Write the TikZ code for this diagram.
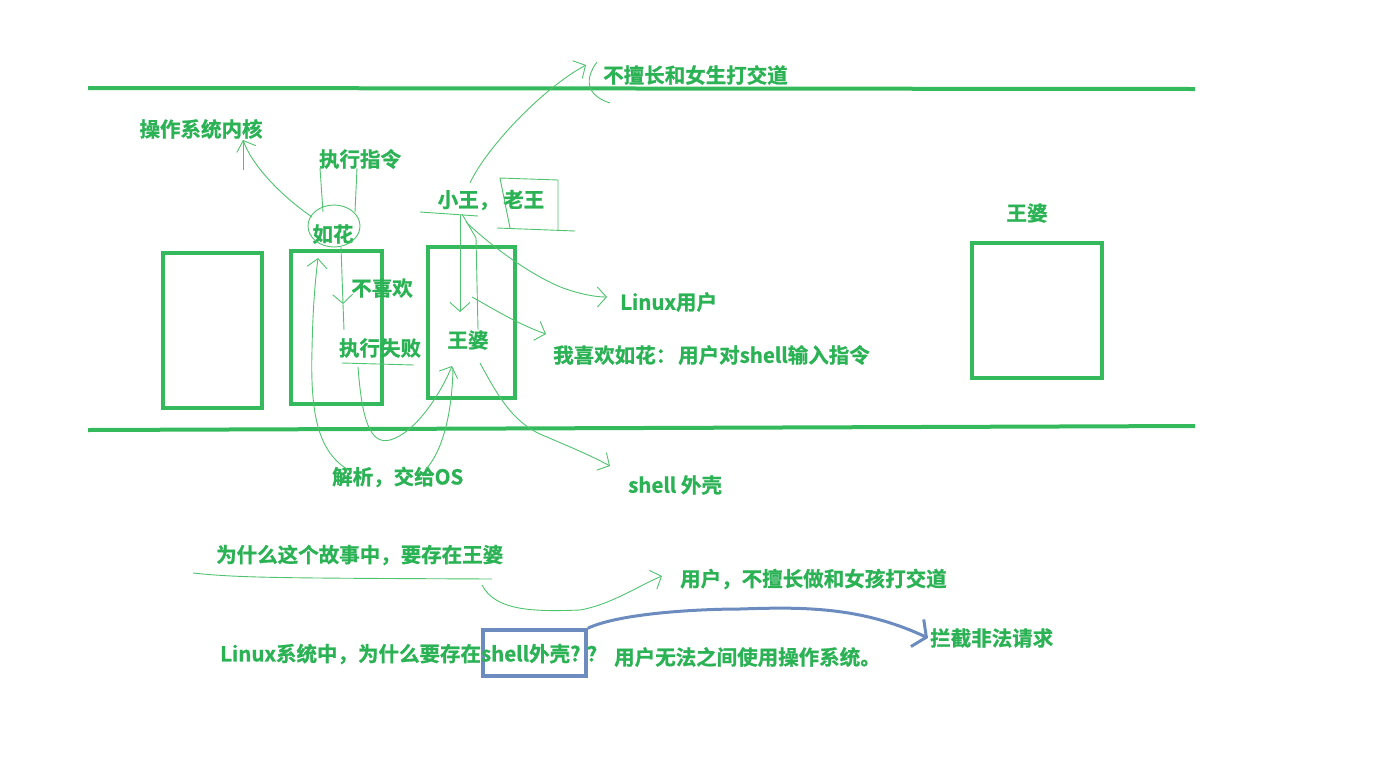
\documentclass[tikz,border=0pt]{standalone}
\usepackage{fontspec}
\setmainfont{Noto Sans CJK SC}[BoldFont=* Bold, BoldFeatures={FakeBold=1}]
\usetikzlibrary{arrows.meta}
\definecolor{tg}{RGB}{42,178,84}
\definecolor{lg}{RGB}{52,186,92}
\definecolor{sg}{RGB}{80,195,112}
\definecolor{bl}{RGB}{108,140,192}
\tikzset{
  lbl/.style={inner sep=0pt, text=tg, font=\bfseries\fontsize{20.5}{24}\selectfont},
  frame/.style={draw=lg, line width=4pt, inner sep=0pt},
  bframe/.style={draw=bl, line width=3.5pt, inner sep=0pt},
  rail/.style={draw=lg, line width=4pt},
  sk/.style={draw=sg, line width=0.9pt},
  ska/.style={sk, -{Straight Barb[length=9pt,width=20pt]}},
  bluearrow/.style={draw=bl, line width=3pt, -{Straight Barb[length=10pt,width=30pt]}},
}
\begin{document}
\begin{tikzpicture}[x=1pt,y=-1pt]
\useasboundingbox (0,0) rectangle (1386,756);
\fill[white] (0,0) rectangle (1386,756);

% rails
\coordinate (r1a) at (88,88); \coordinate (r1b) at (1195,89);
\coordinate (r2a) at (88,430); \coordinate (r2b) at (1195,426);
\draw[rail] (r1a) -- (r1b);
\draw[rail] (r2a) -- (r2b);

% boxes
\node[frame, minimum width=99pt, minimum height=155pt] (b1) at (212.5,330.5) {};
\node[frame, minimum width=91pt, minimum height=153pt] (b2) at (336.5,327.5) {};
\node[frame, minimum width=87pt, minimum height=151pt] (b3) at (471.5,322.5) {};
\node[frame, minimum width=130pt, minimum height=135pt] (b4) at (1037,310.5) {};
\node[bframe, minimum width=103pt, minimum height=46pt] (bb) at (534.5,653) {};

% labels
\node[lbl] (t_kernel) at (201,129) {操作系统内核};
\node[lbl] (t_exec) at (360,159) {执行指令};
\node[lbl] (t_ruhua) at (333,234) {如花};
\node[lbl] (t_xw) at (491,200) {小王，\hspace{4pt}老王};
\node[lbl] (t_wp1) at (1027,213) {王婆};
\node[lbl] (t_bxh) at (382,288) {不喜欢};
\node[lbl] (t_fail) at (380,348) {执行失败};
\node[lbl] (t_wp2) at (468,340) {王婆};
\node[lbl, anchor=west] (t_lu) at (620,302) {Linux用户};
\node[lbl, anchor=west] (t_like) at (553,355) {我喜欢如花：\hspace{2pt}用户对shell输入指令};
\node[lbl, anchor=west] (t_girl) at (603,75) {不擅长和女生打交道};
\node[lbl, anchor=west] (t_parse) at (332,477) {解析，交给OS};
\node[lbl, anchor=west] (t_shell) at (628,485) {shell 外壳};
\node[lbl, anchor=west] (t_why1) at (216,555) {为什么这个故事中，要存在王婆};
\node[lbl, anchor=west] (t_user2) at (680,579) {用户，不擅长做和女孩打交道};
\node[lbl, anchor=west] (t_why2) at (220,654) {Linux系统中，为什么要存在shell外壳?\hspace{6pt}？};
\node[lbl, anchor=west] (t_user3) at (614,657) {用户无法之间使用操作系统。};
\node[lbl, anchor=west] (t_block) at (930,638) {拦截非法请求};

% sketch connectors
\coordinate (k0) at (312,217); \coordinate (k1) at (243,140); \coordinate (k2) at (243,170);
\draw[ska] (k0) .. controls (280,195) and (252,165) .. (k1);
\draw[sk] (k1) -- (k2);

\draw[sk] (334,226) ellipse [x radius=26pt, y radius=21pt];

\coordinate (e1a) at (320,168); \coordinate (e1b) at (323,212);
\coordinate (e2a) at (357,168); \coordinate (e2b) at (355,212);
\draw[sk] (e1a) -- (e1b);
\draw[sk] (e2a) -- (e2b);

\coordinate (d0) at (341,247); \coordinate (d1) at (343,304); \coordinate (d2) at (344,330);
\draw[ska] (d0) -- (d1);
\draw[sk] (d1) -- (d2);

\coordinate (u1a) at (342,363); \coordinate (u1b) at (414,365);
\draw[sk] (u1a) -- (u1b);

\coordinate (f0) at (358,367); \coordinate (f1) at (452,366);
\draw[ska] (f0) .. controls (362,420) and (370,445) .. (390,440) .. controls (415,433) and (440,395) .. (f1);

\coordinate (w0) at (453,368); \coordinate (w1) at (425,470);
\draw[sk] (w0) .. controls (452,420) and (440,455) .. (w1);
\coordinate (p0) at (352,472); \coordinate (p1) at (318,258);
\draw[ska] (p0) .. controls (320,455) and (310,420) .. (312,350) .. controls (313,300) and (316,275) .. (p1);

\coordinate (x0) at (420,212); \coordinate (x1) at (478,216);
\draw[sk] (x0) -- (x1);
\coordinate (g0) at (470,183); \coordinate (g1) at (586,65);
\draw[ska] (g0) .. controls (485,150) and (540,90) .. (g1);
\coordinate (c0) at (597,62); \coordinate (c1) at (610,103);
\draw[sk] (c0) .. controls (585,78) and (585,95) .. (c1);

\coordinate (l0) at (510,228); \coordinate (l1) at (500,178); \coordinate (l2) at (558,180); \coordinate (l3) at (558,231);
\draw[sk] (l0) -- (l1) -- (l2) -- (l3);
\coordinate (l4) at (497,228); \coordinate (l5) at (575,231);
\draw[sk] (l4) -- (l5);

\coordinate (v0) at (460,215); \coordinate (v1) at (460,312);
\draw[ska] (v0) -- (v1);
\coordinate (v2) at (462,214); \coordinate (v3) at (476,238); \coordinate (v4) at (478,330);
\draw[sk] (v2) -- (v3) -- (v4);

\coordinate (n0) at (466,222); \coordinate (n1) at (607,297);
\draw[ska] (n0) .. controls (490,245) and (530,275) .. (563,288) .. controls (580,294) and (595,297) .. (n1);

\coordinate (m0) at (472,297); \coordinate (m1) at (546,334);
\draw[ska] (m0) .. controls (495,310) and (520,325) .. (m1);

\coordinate (s0) at (480,363); \coordinate (s1) at (610,466);
\draw[ska] (s0) .. controls (500,400) and (515,425) .. (547,437) .. controls (570,447) and (590,455) .. (s1);

\coordinate (q0) at (193,573); \coordinate (q1) at (492,579);
\draw[sk] (q0) .. controls (240,578) and (280,578) .. (q1);
\coordinate (q2) at (482,585); \coordinate (q3) at (662,576);
\draw[ska] (q2) .. controls (495,610) and (530,612) .. (580,610) .. controls (610,605) and (640,585) .. (q3);

\draw[bluearrow] (bb.north east) .. controls (620,613) and (700,609) .. (740,609) .. controls (800,607) and (860,606) .. ([xshift=-2pt]t_block.west);
\end{tikzpicture}
\end{document}
